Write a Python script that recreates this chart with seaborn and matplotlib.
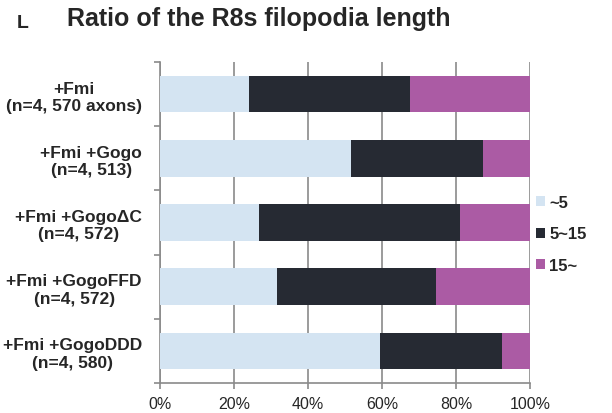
# %%
import numpy as np
import pandas as pd
import matplotlib.pyplot as plt
import seaborn as sns
from matplotlib.patches import Patch

# %%
# (percent of axons per length class)
groups = ["+Fmi\n(n=4, 570 axons)",
          "+Fmi +Gogo\n(n=4, 513)",
          "+Fmi +Gogo\u0394C\n(n=4, 572)",
          "+Fmi +GogoFFD\n(n=4, 572)",
          "+Fmi +GogoDDD\n(n=4, 580)"]
short_pct = [24.1, 51.6, 26.8, 31.6, 59.5]
mid_pct = [43.5, 35.6, 54.3, 43.0, 32.9]
long_pct = [32.4, 12.8, 18.9, 25.4, 7.6]

classes = ["~5", "5~15", "15~"]
colors = ["#d4e4f2", "#262a33", "#ab5ba4"]

# %%
sns.set_style("white")
plt.rcParams['font.family'] = ['Liberation Sans', 'DejaVu Sans']

df = pd.DataFrame({"group": groups, "short": short_pct, "mid": mid_pct, "long": long_pct})
df["cum_mid"] = df["short"] + df["mid"]
df["cum_long"] = df["cum_mid"] + df["long"]

fig = plt.figure(figsize=(6.12, 4.14), dpi=100)
ax = fig.add_axes([160/612, 1-384/414, 370/612, 321/414])

# stacked bars: draw the cumulative totals back to front
for col, c in zip(["cum_long", "cum_mid", "short"], colors[::-1]):
    sns.barplot(data=df, x=col, y="group", color=c, width=0.57, ax=ax,
                saturation=1, linewidth=0, zorder=3)

ax.set_xlim(0, 100)
ax.set_ylim(4.5, -0.5)
ax.set_xticks(np.arange(0, 101, 20))
ax.set_xticklabels([f"{v}%" for v in range(0, 101, 20)], fontsize=11.5)
ax.set_xlabel("")
ax.set_ylabel("")
ax.grid(axis="x", color="#8a8a8a", linewidth=1.2, zorder=0)
ax.grid(axis="y", visible=False)

for s in ["top", "right"]:
    ax.spines[s].set_visible(False)
for s in ["left", "bottom"]:
    ax.spines[s].set_color("#8a8a8a")
    ax.spines[s].set_linewidth(1.2)

ax.tick_params(axis="x", length=4.5, width=1.2, color="#8a8a8a", pad=5, direction="out", bottom=True)
ax.set_yticks(np.arange(-0.5, 5, 1), minor=True)
ax.tick_params(axis="y", which="minor", length=4.5, width=1.2, color="#8a8a8a", direction="out", left=True)
ax.tick_params(axis="y", which="major", length=0, pad=13)
for lab in ax.get_yticklabels():
    lab.set_fontweight("bold")
    lab.set_fontsize(12.5)
    lab.set_multialignment("center")
    lab.set_linespacing(1.2)

handles = [Patch(facecolor=c, edgecolor="none") for c in colors]
leg = fig.legend(handles, classes, loc="center left", bbox_to_anchor=(536/612, 1-235/414),
                 frameon=False, borderpad=0, borderaxespad=0, handlelength=0.55, handleheight=0.55,
                 handletextpad=0.25, labelspacing=1.0, prop={"weight": "bold", "size": 12})

fig.text(17/612, 1-28/414, "L", fontsize=14, fontweight="bold", va="baseline")
fig.text(67/612, 1-26/414, "Ratio of the R8s filopodia length", fontsize=18, fontweight="bold", va="baseline")

plt.savefig("out.png", dpi=100)
